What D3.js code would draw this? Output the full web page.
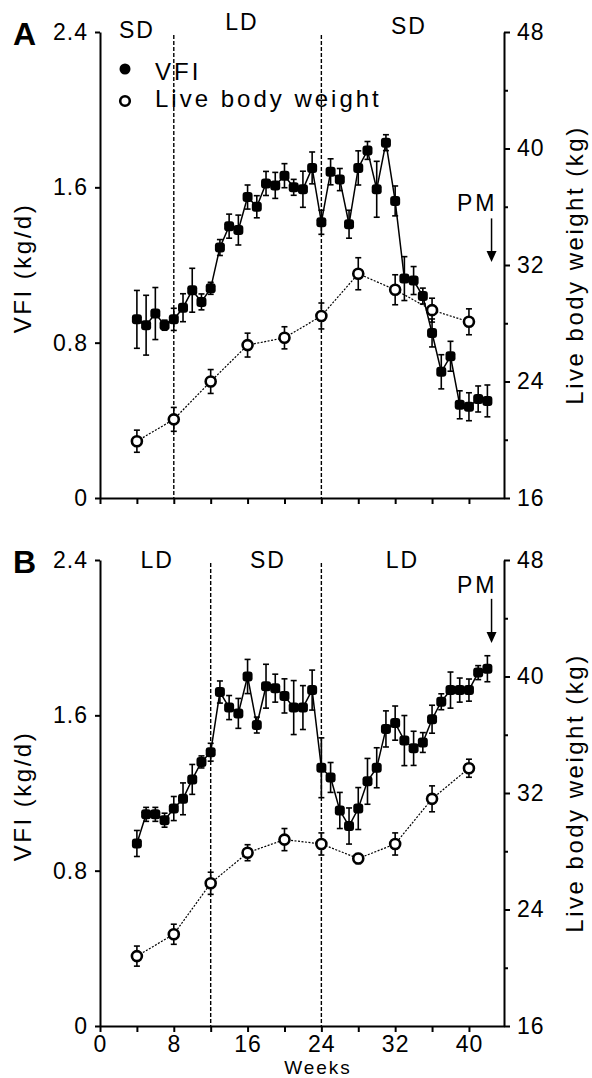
<!DOCTYPE html>
<html>
<head>
<meta charset="utf-8">
<script src="https://cdn.jsdelivr.net/npm/d3@7"></script>
<style>
body { margin: 0; background: #fff; }
svg text { font-family: "Liberation Sans", Arial, sans-serif; fill: #000; }
</style>
</head>
<body>
<div id="chart"></div>
<script>
// weekly VFI, weeks 4..42
const vfiWeeks = [4, 5, 6, 7, 8, 9, 10, 11, 12, 13, 14, 15, 16, 17, 18, 19, 20, 21, 22, 23,
                  24, 25, 26, 27, 28, 29, 30, 31, 32, 33, 34, 35, 36, 37, 38, 39, 40, 41, 42];
// live weight every 4 weeks
const wtWeeks = [4, 8, 12, 16, 20, 24, 28, 32, 36, 40];

// panel A (SD-LD-SD)
const vfiA = [0.92, 0.89, 0.95, 0.89, 0.92, 0.98, 1.07, 1.01, 1.08, 1.29, 1.40, 1.38, 1.55, 1.50, 1.62, 1.61, 1.66, 1.60, 1.59, 1.70,
              1.42, 1.68, 1.64, 1.41, 1.70, 1.79, 1.59, 1.83, 1.53, 1.13, 1.12, 1.04, 0.85, 0.65, 0.73, 0.48, 0.47, 0.51, 0.50];
const vfiErrA = [0.149, 0.154, 0.134, 0.026, 0.057, 0.072, 0.113, 0.041, 0.031, 0.041, 0.062, 0.077, 0.062, 0.057, 0.062, 0.067, 0.062, 0.041, 0.093, 0.082,
                 0.062, 0.067, 0.057, 0.072, 0.088, 0.046, 0.144, 0.041, 0.077, 0.113, 0.072, 0.041, 0.072, 0.088, 0.077, 0.072, 0.072, 0.067, 0.082];
const wtA = [19.9, 21.4, 24.0, 26.5, 27.0, 28.5, 31.4, 30.3, 28.9, 28.1];
const wtErrA = [0.76, 0.82, 0.82, 0.82, 0.76, 0.89, 1.1, 1.03, 0.82, 0.89];

// panel B (LD-SD-LD)
const vfiB = [0.94, 1.09, 1.09, 1.06, 1.12, 1.17, 1.27, 1.36, 1.41, 1.72, 1.64, 1.61, 1.80, 1.55, 1.75, 1.74, 1.70, 1.64, 1.64, 1.73,
              1.33, 1.28, 1.11, 1.03, 1.12, 1.26, 1.33, 1.53, 1.56, 1.47, 1.43, 1.46, 1.58, 1.67, 1.73, 1.73, 1.73, 1.82, 1.84];
const vfiErrB = [0.067, 0.036, 0.036, 0.036, 0.062, 0.082, 0.077, 0.031, 0.046, 0.057, 0.062, 0.077, 0.088, 0.041, 0.113, 0.072, 0.088, 0.139, 0.113, 0.103,
                 0.154, 0.077, 0.093, 0.093, 0.108, 0.118, 0.103, 0.093, 0.088, 0.129, 0.088, 0.051, 0.072, 0.041, 0.093, 0.062, 0.057, 0.036, 0.067];
const wtB = [20.8, 22.3, 25.8, 27.9, 28.8, 28.5, 27.5, 28.5, 31.6, 33.7];
const wtErrB = [0.69, 0.69, 0.76, 0.55, 0.76, 0.76, 0.34, 0.76, 0.89, 0.62];

// ticks
const vfiTicks = [0, 0.8, 1.6, 2.4];
const wtTicks = [16, 24, 32, 40, 48];
const wtMinor = [20, 28, 36, 44];
const weekTicks = [0, 8, 16, 24, 32, 40];
const weekMinor = [4, 12, 20, 28, 36];

// photoperiod switches and labels
const switchA = [8, 24];
const switchB = [12, 24];
const periodsA = [{text: "SD", week: 4, vfi: 2.37}, {text: "LD", week: 15.4, vfi: 2.41}, {text: "SD", week: 33.5, vfi: 2.39}];
const periodsB = [{text: "LD", week: 6.2, vfi: 2.36}, {text: "SD", week: 18.2, vfi: 2.36}, {text: "LD", week: 32.8, vfi: 2.36}];
// PM arrow: week, text baseline, line top, tip (VFI units)
const pmA = {week: 42.45, textWeek: 38.7, text: 1.48, top: 1.44, tip: 1.215};
const pmB = {week: 42.45, textWeek: 38.7, text: 2.23, top: 2.20, tip: 1.972};

const width = 592, height = 1078;
const plotLeft = 100, plotRight = 504, plotH = 466;

const svg = d3.select("#chart")
    .append("svg")
        .attr("width", width)
        .attr("height", height);

function styleAxis(sel, size) {
    sel.select(".domain").attr("stroke-width", 2);
    sel.selectAll(".tick line").attr("stroke-width", 2);
    sel.selectAll(".tick text")
        .attr("font-size", size)
        .attr("letter-spacing", "1px")
        .attr("fill", "#000");
}

function drawPanel(p) {
    const g = svg.append("g").attr("transform", "translate(0," + p.top + ")");

    const x = d3.scaleLinear().domain([0, 43.8]).range([plotLeft, plotRight]);
    const yV = d3.scaleLinear().domain([0, 2.4]).range([plotH, 0]);
    const yW = d3.scaleLinear().domain([16, 48]).range([plotH, 0]);

    // axes
    g.append("g")
        .attr("transform", "translate(" + plotLeft + ",0)")
        .call(d3.axisLeft(yV).tickValues(vfiTicks).tickSize(5).tickSizeOuter(0).tickPadding(7)
            .tickFormat(d => d === 0 ? "0" : d3.format(".1f")(d)))
        .call(styleAxis, 23);

    g.append("g")
        .attr("transform", "translate(" + plotRight + ",0)")
        .call(d3.axisRight(yW).tickValues(wtTicks).tickSize(6).tickSizeOuter(0).tickPadding(7))
        .call(styleAxis, 23);
    g.append("g")
        .attr("transform", "translate(" + plotRight + ",0)")
        .call(d3.axisRight(yW).tickValues(wtMinor).tickSize(4).tickFormat(""))
        .call(styleAxis, 23)
        .select(".domain").remove();

    g.append("g")
        .attr("transform", "translate(0," + plotH + ")")
        .call(d3.axisBottom(x).tickValues(weekTicks).tickSize(6).tickSizeOuter(0).tickPadding(4)
            .tickFormat(p.xLabels ? d3.format("d") : ""))
        .call(styleAxis, 23);
    g.append("g")
        .attr("transform", "translate(0," + plotH + ")")
        .call(d3.axisBottom(x).tickValues(weekMinor).tickSize(6).tickFormat(""))
        .call(styleAxis, 23)
        .select(".domain").remove();

    // photoperiod switches
    g.selectAll(".switch")
        .data(p.switches)
        .enter().append("line")
        .attr("class", "switch")
        .attr("x1", d => x(d)).attr("x2", d => x(d))
        .attr("y1", yV(2.4) + 3).attr("y2", plotH)
        .attr("stroke", "#000")
        .attr("stroke-width", 1.4)
        .attr("stroke-dasharray", "4,2");

    g.selectAll(".period")
        .data(p.periods)
        .enter().append("text")
        .attr("class", "period")
        .attr("x", d => x(d.week))
        .attr("y", d => yV(d.vfi))
        .attr("text-anchor", "middle")
        .attr("font-size", 23)
        .attr("letter-spacing", "2px")
        .text(d => d.text);

    // live body weight
    const wt = wtWeeks.map((w, i) => ({week: w, v: p.wt[i], e: p.wtErr[i]}));
    g.append("path")
        .datum(wt)
        .attr("fill", "none")
        .attr("stroke", "#000")
        .attr("stroke-width", 1.2)
        .attr("stroke-dasharray", "2,1.5")
        .attr("d", d3.line().x(d => x(d.week)).y(d => yW(d.v)));
    drawErrors(g, wt, x, yW);
    g.selectAll(".wt")
        .data(wt)
        .enter().append("circle")
        .attr("class", "wt")
        .attr("cx", d => x(d.week))
        .attr("cy", d => yW(d.v))
        .attr("r", 5)
        .attr("fill", "#fff")
        .attr("stroke", "#000")
        .attr("stroke-width", 2.6);

    // VFI
    const vfi = vfiWeeks.map((w, i) => ({week: w, v: p.vfi[i], e: p.vfiErr[i]}));
    g.append("path")
        .datum(vfi)
        .attr("fill", "none")
        .attr("stroke", "#000")
        .attr("stroke-width", 1.5)
        .attr("d", d3.line().x(d => x(d.week)).y(d => yV(d.v)));
    drawErrors(g, vfi, x, yV);
    g.selectAll(".vfi")
        .data(vfi)
        .enter().append("rect")
        .attr("class", "vfi")
        .attr("x", d => x(d.week) - 5)
        .attr("y", d => yV(d.v) - 5)
        .attr("width", 10)
        .attr("height", 10)
        .attr("rx", 3)
        .attr("fill", "#000");

    // PM arrow
    const ax = x(p.pm.week);
    g.append("text")
        .attr("x", x(p.pm.textWeek))
        .attr("y", yV(p.pm.text))
        .attr("font-size", 23)
        .attr("letter-spacing", "3px")
        .text("PM");
    g.append("line")
        .attr("x1", ax).attr("x2", ax)
        .attr("y1", yV(p.pm.top)).attr("y2", yV(p.pm.tip) - 6)
        .attr("stroke", "#000")
        .attr("stroke-width", 1.5);
    const tip = yV(p.pm.tip);
    g.append("path")
        .attr("d", "M" + (ax - 5) + "," + (tip - 11) + "L" + (ax + 5) + "," + (tip - 11) + "L" + ax + "," + tip + "Z")
        .attr("fill", "#000");

    // panel letter
    g.append("text")
        .attr("x", 13)
        .attr("y", 13)
        .attr("font-size", 32)
        .attr("font-weight", "bold")
        .text(p.label);

    // axis titles
    g.append("text")
        .attr("transform", "translate(31," + 236 + ") rotate(-90)")
        .attr("text-anchor", "middle")
        .attr("font-size", 24)
        .attr("letter-spacing", "2.5px")
        .text("VFI (kg/d)");
    g.append("text")
        .attr("transform", "translate(583," + 233 + ") rotate(-90)")
        .attr("text-anchor", "middle")
        .attr("font-size", 24)
        .attr("letter-spacing", "2.5px")
        .text("Live body weight (kg)");

    return g;
}

function drawErrors(g, data, x, y) {
    const bars = g.append("g").attr("stroke", "#000").attr("stroke-width", 1.6);
    data.forEach(d => {
        const cx = x(d.week);
        const y1 = y(d.v - d.e), y2 = y(d.v + d.e);
        bars.append("line").attr("x1", cx).attr("x2", cx).attr("y1", y1).attr("y2", y2);
        bars.append("line").attr("x1", cx - 3).attr("x2", cx + 3).attr("y1", y1).attr("y2", y1);
        bars.append("line").attr("x1", cx - 3).attr("x2", cx + 3).attr("y1", y2).attr("y2", y2);
    });
}

// Legend
function displayLegend(g) {
    g.append("circle").attr("cx", 125).attr("cy", 37).attr("r", 5.5).attr("fill", "#000");
    g.append("circle").attr("cx", 125).attr("cy", 69).attr("r", 4.8)
        .attr("fill", "#fff").attr("stroke", "#000").attr("stroke-width", 2.6);
    g.append("text").attr("x", 155).attr("y", 48).attr("font-size", 24)
        .attr("letter-spacing", "3px").text("VFI");
    g.append("text").attr("x", 155).attr("y", 75).attr("font-size", 24)
        .attr("letter-spacing", "3px").text("Live body weight");
}

const gA = drawPanel({top: 32, label: "A", vfi: vfiA, vfiErr: vfiErrA, wt: wtA, wtErr: wtErrA,
                      switches: switchA, periods: periodsA, pm: pmA, xLabels: false});
displayLegend(gA);
drawPanel({top: 560, label: "B", vfi: vfiB, vfiErr: vfiErrB, wt: wtB, wtErr: wtErrB,
           switches: switchB, periods: periodsB, pm: pmB, xLabels: true});

svg.append("text")
    .attr("x", 318)
    .attr("y", 1074)
    .attr("text-anchor", "middle")
    .attr("font-size", 19)
    .attr("letter-spacing", "2px")
    .text("Weeks");
</script>
</body>
</html>
